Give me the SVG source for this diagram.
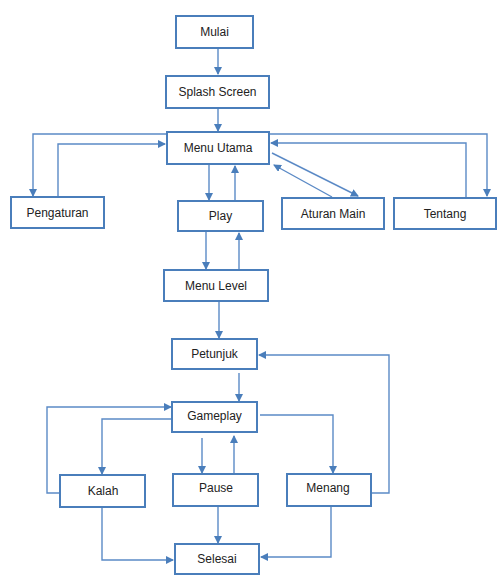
<svg xmlns="http://www.w3.org/2000/svg" width="502" height="581" viewBox="0 0 502 581">
<defs>
<marker id="ah" markerWidth="8" markerHeight="8" refX="7" refY="4" orient="auto" markerUnits="userSpaceOnUse">
<path d="M0,0 L8,4 L0,8 Z" fill="#4a7ebb"/>
</marker>
</defs>
<style>
.box{fill:#fff;stroke:#4a7ebb;stroke-width:2}
.lbl{font-family:"Liberation Sans",Arial,sans-serif;font-size:12px;fill:#222;text-anchor:middle;dominant-baseline:central}
.c{fill:none;stroke:#5b8ac6;stroke-width:1.4;marker-end:url(#ah)}
</style>
<rect width="502" height="581" fill="#fff"/>
<g id="connectors">
<path class="c" d="M218,48 V74"/>
<path class="c" d="M218,108 V131"/>
<path class="c" d="M167,134 H33 V196"/>
<path class="c" d="M58,197 V144 H165"/>
<path class="c" d="M209,164 V200"/>
<path class="c" d="M235,201 V166"/>
<path class="c" d="M272,153 L358,196"/>
<path class="c" d="M332,197 L274,165"/>
<path class="c" d="M269,134 H487 V196"/>
<path class="c" d="M466,198 V143 H271"/>
<path class="c" d="M206,231 V269"/>
<path class="c" d="M239,270 V233"/>
<path class="c" d="M219,301 V338"/>
<path class="c" d="M239,373 V401"/>
<path class="c" d="M372,493 H389 V355 H259"/>
<path class="c" d="M60,493 H47 V407 H171"/>
<path class="c" d="M172,419 H102 V474"/>
<path class="c" d="M202,438 V473"/>
<path class="c" d="M234,474 V436"/>
<path class="c" d="M260,415 H333 V473"/>
<path class="c" d="M218,506 V543"/>
<path class="c" d="M102,507 V560 H173"/>
<path class="c" d="M331,506 V557 H261"/>
</g>
<g id="mulai"><rect class="box" x="176" y="16" width="77" height="32"/><text class="lbl" x="214.5" y="32">Mulai</text></g>
<g id="splash"><rect class="box" x="166" y="76" width="103" height="32"/><text class="lbl" x="217.5" y="92">Splash Screen</text></g>
<g id="menu-utama"><rect class="box" x="167" y="132" width="102" height="32"/><text class="lbl" x="218" y="148">Menu Utama</text></g>
<g id="pengaturan"><rect class="box" x="11" y="197" width="93" height="31"/><text class="lbl" x="57.5" y="212.5">Pengaturan</text></g>
<g id="play"><rect class="box" x="178" y="201" width="85" height="30"/><text class="lbl" x="220.5" y="216">Play</text></g>
<g id="aturan-main"><rect class="box" x="282" y="198" width="102" height="31"/><text class="lbl" x="333" y="213.5">Aturan Main</text></g>
<g id="tentang"><rect class="box" x="394" y="198" width="102" height="31"/><text class="lbl" x="445" y="213.5">Tentang</text></g>
<g id="menu-level"><rect class="box" x="164" y="270" width="104" height="31"/><text class="lbl" x="216" y="285.5">Menu Level</text></g>
<g id="petunjuk"><rect class="box" x="172" y="339" width="85" height="30"/><text class="lbl" x="214.5" y="354">Petunjuk</text></g>
<g id="gameplay"><rect class="box" x="172" y="402" width="85" height="30"/><text class="lbl" x="214.5" y="416">Gameplay</text></g>
<g id="kalah"><rect class="box" x="60" y="475" width="85" height="32"/><text class="lbl" x="103" y="491">Kalah</text></g>
<g id="pause"><rect class="box" x="173" y="474" width="85" height="32"/><text class="lbl" x="216" y="488">Pause</text></g>
<g id="menang"><rect class="box" x="287" y="474" width="84" height="32"/><text class="lbl" x="328" y="488">Menang</text></g>
<g id="selesai"><rect class="box" x="175" y="544" width="84" height="30"/><text class="lbl" x="217" y="559">Selesai</text></g>
</svg>
